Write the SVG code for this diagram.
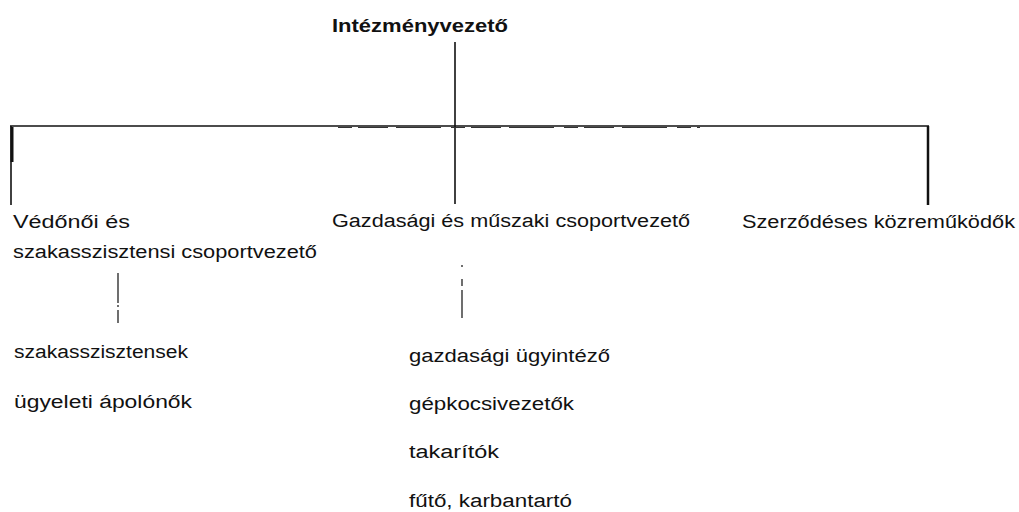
<svg xmlns="http://www.w3.org/2000/svg" width="1019" height="512" viewBox="0 0 1019 512">
<style>
text{font-family:"Liberation Sans","DejaVu Sans",sans-serif;font-size:18px;fill:#111}
.b{font-weight:bold}
.ln{stroke:#111;stroke-width:1.6;fill:none}
.dl{stroke:#222;stroke-width:1.3;fill:none}
</style>
<rect width="1019" height="512" fill="#fff"/>
<g id="connectors">
<line class="ln" x1="455" y1="42" x2="455" y2="204"/>
<line class="ln" x1="10" y1="126" x2="929" y2="126"/>
<line stroke="#333" stroke-width="1.2" stroke-dasharray="14,6,30,8,45,10" x1="338" y1="127.5" x2="700" y2="127.5"/>
<line class="ln" x1="11" y1="126" x2="11" y2="205"/>
<line stroke="#111" stroke-width="3" x1="12" y1="127" x2="12" y2="162"/>
<line stroke="#111" stroke-width="2.5" x1="928" y1="126" x2="928" y2="205"/>
<path class="dl" d="M118 273V303M118 305V307M118 310V323"/>
<path class="dl" d="M462 265V267M462 279V286M462 290V318"/>
</g>
<g id="n-intezmenyvezeto"><text class="b" x="332" y="32" textLength="176" lengthAdjust="spacingAndGlyphs">Intézményvezető</text></g>
<g id="n-vedonoi">
<text x="13" y="228" textLength="117" lengthAdjust="spacingAndGlyphs">Védőnői és</text>
<text x="13" y="258" textLength="304" lengthAdjust="spacingAndGlyphs">szakasszisztensi csoportvezető</text>
</g>
<g id="n-gazdasagi"><text x="332" y="227" textLength="358" lengthAdjust="spacingAndGlyphs">Gazdasági és műszaki csoportvezető</text></g>
<g id="n-szerzodeses"><text x="742" y="228" textLength="273" lengthAdjust="spacingAndGlyphs">Szerződéses közreműködők</text></g>
<g id="n-szakasszisztensek"><text x="14" y="358" textLength="174" lengthAdjust="spacingAndGlyphs">szakasszisztensek</text></g>
<g id="n-ugyeleti"><text x="14" y="408" textLength="178" lengthAdjust="spacingAndGlyphs">ügyeleti ápolónők</text></g>
<g id="n-gazdasagi-ugyintezo"><text x="409" y="362" textLength="201" lengthAdjust="spacingAndGlyphs">gazdasági ügyintéző</text></g>
<g id="n-gepkocsivezetok"><text x="409" y="410" textLength="165" lengthAdjust="spacingAndGlyphs">gépkocsivezetők</text></g>
<g id="n-takaritok"><text x="409" y="458" textLength="90" lengthAdjust="spacingAndGlyphs">takarítók</text></g>
<g id="n-futo"><text x="409" y="507" textLength="163" lengthAdjust="spacingAndGlyphs">fűtő, karbantartó</text></g>
</svg>
